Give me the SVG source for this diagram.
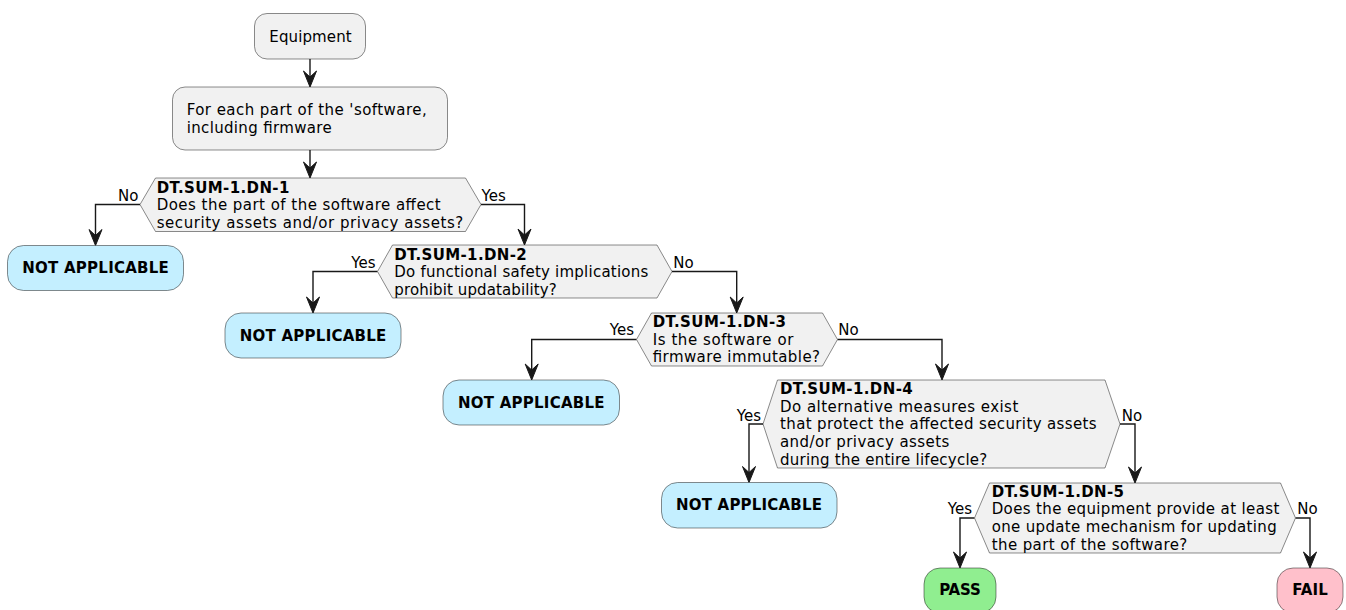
<svg xmlns="http://www.w3.org/2000/svg" width="1346" height="610" viewBox="0 0 1346 610">
<style>
text{font-family:"DejaVu Sans","Liberation Sans",sans-serif;font-size:15px;fill:#000}
.b{font-weight:bold}
.lbl{font-size:15px}
.end{text-anchor:end}
.act{fill:#F1F1F1;stroke:#181818;stroke-width:0.5}
.hex{fill:#F1F1F1;stroke:#181818;stroke-width:0.5}
.na{fill:#C4EFFF;stroke:#181818;stroke-width:0.5}
.pass{fill:#90EE90;stroke:#181818;stroke-width:0.5}
.fail{fill:#FFC0CB;stroke:#181818;stroke-width:0.5}
.c{fill:none;stroke:#181818;stroke-width:1.4}
.ah{fill:#181818;stroke:#181818;stroke-width:1}
</style>
<defs>
<path id="arr" d="M0,0 L-6.5,-16 L0,-10 L6.5,-16 Z" class="ah"/>
</defs>
<rect width="1346" height="610" fill="#FFFFFF"/>

<g id="connectors">
<path class="c" d="M310,58.5 V85"/><use href="#arr" x="310" y="87"/>
<path class="c" d="M310,150 V176"/><use href="#arr" x="310" y="178"/>
<path class="c" d="M140,204.5 H95.5 V243"/><use href="#arr" x="95.5" y="245.5"/>
<text class="lbl end" x="138.5" y="201">No</text>
<path class="c" d="M481,204.5 H524.5 V243"/><use href="#arr" x="524.5" y="245"/>
<text class="lbl" x="481.5" y="201">Yes</text>
<path class="c" d="M377.5,271.5 H313 V311"/><use href="#arr" x="313" y="313"/>
<text class="lbl end" x="375.5" y="268.3">Yes</text>
<path class="c" d="M672,271.5 H736.7 V311"/><use href="#arr" x="736.7" y="313"/>
<text class="lbl" x="673.3" y="268.3">No</text>
<path class="c" d="M636.5,339.5 H531.7 V378"/><use href="#arr" x="531.7" y="380"/>
<text class="lbl end" x="634" y="335">Yes</text>
<path class="c" d="M837.5,339.5 H942 V378"/><use href="#arr" x="942" y="380"/>
<text class="lbl" x="838.3" y="335">No</text>
<path class="c" d="M763,424 H749 V480"/><use href="#arr" x="749" y="482.5"/>
<text class="lbl end" x="761" y="420.7">Yes</text>
<path class="c" d="M1120,424 H1135 V481"/><use href="#arr" x="1135" y="483"/>
<text class="lbl" x="1121.7" y="420.7">No</text>
<path class="c" d="M974.5,518 H960 V566"/><use href="#arr" x="960" y="568"/>
<text class="lbl end" x="972" y="514.3">Yes</text>
<path class="c" d="M1295.5,518 H1310 V566"/><use href="#arr" x="1310" y="568"/>
<text class="lbl" x="1297.3" y="514.3">No</text>
</g>

<g id="start">
<rect class="act" x="254.5" y="13.5" width="111" height="45.5" rx="12.5"/>
<text x="269.3" y="41.7" textLength="82.4">Equipment</text>
</g>

<g id="foreach">
<rect class="act" x="172.5" y="87" width="275" height="63" rx="12.5"/>
<text x="186.7" y="115" textLength="240">For each part of the 'software,</text>
<text x="186.7" y="132.7" textLength="145">including firmware</text>
</g>

<g id="dn1">
<polygon class="hex" points="140,204.5 155.5,178 465.5,178 481,204.5 465.5,231.5 155.5,231.5"/>
<text class="b" x="156.7" y="192.7" textLength="132.7">DT.SUM-1.DN-1</text>
<text x="156.7" y="210.2" textLength="284">Does the part of the software affect</text>
<text x="156.7" y="227.7" textLength="306.6">security assets and/or privacy assets?</text>
</g>

<g id="na1">
<rect class="na" x="7.5" y="245.5" width="176" height="45" rx="16"/>
<text class="b" x="95.5" y="273.3" text-anchor="middle" textLength="146.7">NOT APPLICABLE</text>
</g>

<g id="dn2">
<polygon class="hex" points="377.5,271.5 392.5,245 657,245 672,271.5 657,298 392.5,298"/>
<text class="b" x="394.3" y="259.5" textLength="132.4">DT.SUM-1.DN-2</text>
<text x="394.3" y="277.2" textLength="254">Do functional safety implications</text>
<text x="394.3" y="294.7" textLength="162.4">prohibit updatability?</text>
</g>

<g id="na2">
<rect class="na" x="225" y="313" width="176" height="45" rx="16"/>
<text class="b" x="313" y="340.8" text-anchor="middle" textLength="146.7">NOT APPLICABLE</text>
</g>

<g id="dn3">
<polygon class="hex" points="636.5,339.5 651.5,313 822.5,313 837.5,339.5 822.5,366 651.5,366"/>
<text class="b" x="652.7" y="327" textLength="133.3">DT.SUM-1.DN-3</text>
<text x="652.7" y="344.7" textLength="140.6">Is the software or</text>
<text x="652.7" y="362.2" textLength="167.3">firmware immutable?</text>
</g>

<g id="na3">
<rect class="na" x="443" y="380" width="176.5" height="45" rx="16"/>
<text class="b" x="531.2" y="407.7" text-anchor="middle" textLength="146.6">NOT APPLICABLE</text>
</g>

<g id="dn4">
<polygon class="hex" points="763,424 777.5,380 1105,380 1120,424 1105,468 777.5,468"/>
<text class="b" x="780" y="394" textLength="132.7">DT.SUM-1.DN-4</text>
<text x="780" y="411.7" textLength="238.3">Do alternative measures exist</text>
<text x="780" y="429.3" textLength="316.7">that protect the affected security assets</text>
<text x="780" y="446.9" textLength="169.3">and/or privacy assets</text>
<text x="780" y="464.5" textLength="207.3">during the entire lifecycle?</text>
</g>

<g id="na4">
<rect class="na" x="661.5" y="482.5" width="175.5" height="45.5" rx="16"/>
<text class="b" x="749" y="510" text-anchor="middle" textLength="146">NOT APPLICABLE</text>
</g>

<g id="dn5">
<polygon class="hex" points="974.5,518 989.5,483 1280.5,483 1295.5,518 1280.5,553 989.5,553"/>
<text class="b" x="991.7" y="496.7" textLength="132.3">DT.SUM-1.DN-5</text>
<text x="991.7" y="514.3" textLength="287.6">Does the equipment provide at least</text>
<text x="991.7" y="531.9" textLength="285">one update mechanism for updating</text>
<text x="991.7" y="549.5" textLength="195.6">the part of the software?</text>
</g>

<g id="pass">
<rect class="pass" x="924" y="568" width="72" height="45" rx="16"/>
<text class="b" x="960" y="595" text-anchor="middle" textLength="41.7">PASS</text>
</g>

<g id="fail">
<rect class="fail" x="1277" y="568" width="66" height="45" rx="16"/>
<text class="b" x="1310" y="595" text-anchor="middle" textLength="35.6">FAIL</text>
</g>
</svg>
